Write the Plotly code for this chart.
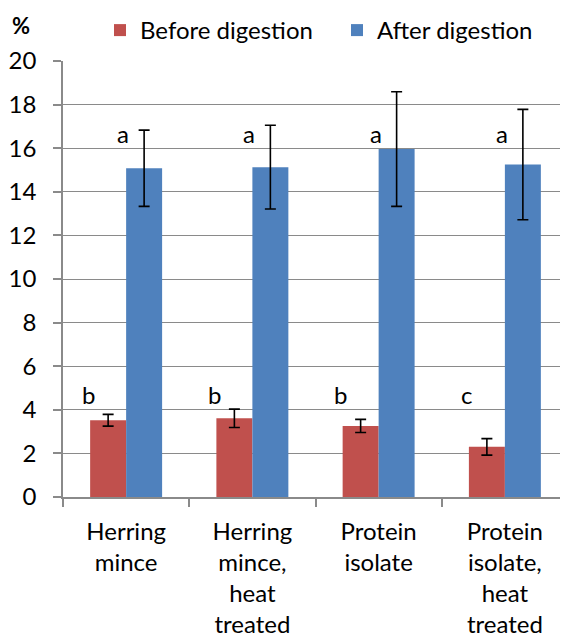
import plotly.graph_objects as go

# ---- data ----
categories = ["Herring<br>mince", "Herring<br>mince,<br>heat<br>treated",
              "Protein<br>isolate", "Protein<br>isolate,<br>heat<br>treated"]
before = [3.52, 3.61, 3.26, 2.30]
before_err = [0.27, 0.42, 0.30, 0.38]
after = [15.08, 15.13, 15.96, 15.25]
after_err = [1.75, 1.92, 2.63, 2.53]
before_letters = ["b", "b", "b", "c"]
after_letters = ["a", "a", "a", "a"]
y_ticks = [0, 2, 4, 6, 8, 10, 12, 14, 16, 18, 20]

FONT = "Lato"
FS = 24
GRID = "#8a8a8a"

# page body has an 8px margin; layout is compensated for it
L, R, T, B = 55, 8, 53, 150
PW = 568 - L - R
PH = 639 - T - B

fig = go.Figure()
fig.add_trace(go.Bar(
    name="Before digestion", x=categories, y=before,
    marker=dict(color="#C0504D", line=dict(width=0)),
    error_y=dict(type="data", array=before_err, color="black", thickness=1.6, width=5.5),
))
fig.add_trace(go.Bar(
    name="After digestion", x=categories, y=after,
    marker=dict(color="#4F81BD", line=dict(width=0)),
    error_y=dict(type="data", array=after_err, color="black", thickness=1.6, width=5.5),
))

annotations = []
for c, t in zip(categories, before_letters):
    annotations.append(dict(x=c, y=4.72, xref="x", yref="y", text=t, showarrow=False,
                            xanchor="center", yanchor="middle",
                            xshift=-38, font=dict(family=FONT, size=FS, color="black")))
for c, t in zip(categories, after_letters):
    annotations.append(dict(x=c, y=16.68, xref="x", yref="y", text=t, showarrow=False,
                            xanchor="center", yanchor="middle",
                            xshift=-3, font=dict(family=FONT, size=FS, color="black")))
annotations.append(dict(x=(21 - 8 - L) / PW, y=1 + (T - (25 - 8)) / PH,
                        xref="paper", yref="paper", xanchor="center", yanchor="middle",
                        text="<b>%</b>", showarrow=False,
                        font=dict(family=FONT, size=22, color="black")))

fig.update_layout(
    width=568, height=639,
    margin=dict(l=L, r=R, t=T, b=B, autoexpand=False),
    paper_bgcolor="white", plot_bgcolor="white",
    font=dict(family=FONT, size=FS, color="black"),
    barmode="group", bargap=0.43, bargroupgap=0,
    showlegend=True,
    legend=dict(orientation="h", xref="container", yref="container",
                x=92 / 568, y=1.0, xanchor="left", yanchor="top",
                font=dict(family=FONT, size=FS), entrywidth=192, entrywidthmode="pixels",
                bgcolor="rgba(0,0,0,0)"),
    xaxis=dict(showline=True, linecolor=GRID, linewidth=1.5, ticks="outside",
               tickson="boundaries", ticklen=8, tickcolor=GRID, tickwidth=1.5,
               showgrid=False, zeroline=False, fixedrange=True, ticklabelstandoff=12),
    yaxis=dict(range=[0, 20], tickvals=y_ticks, showline=True, linecolor=GRID, linewidth=1.5,
               ticks="outside", ticklen=8, tickcolor=GRID, tickwidth=1.5,
               showgrid=True, gridcolor=GRID, gridwidth=1.3, zeroline=False,
               ticklabelstandoff=12),
    annotations=annotations,
)

fig.write_html("out.html")
